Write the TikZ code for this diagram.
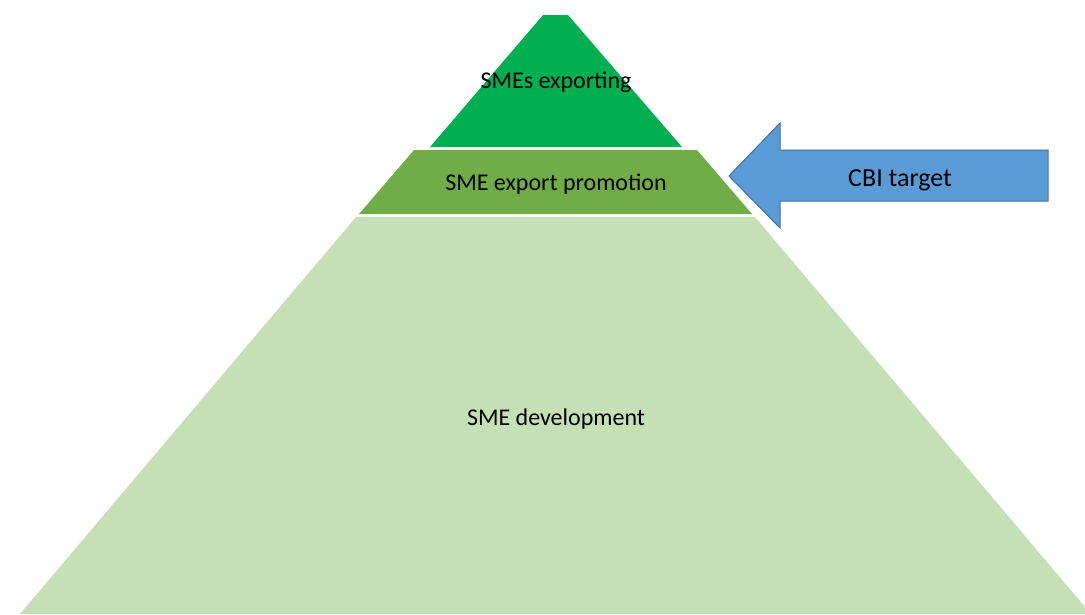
\documentclass[tikz,border=0pt]{standalone}
\usepackage{fontspec}
\setmainfont{Carlito}
\definecolor{topgreen}{HTML}{00B050}
\definecolor{midgreen}{HTML}{70AD47}
\definecolor{lowgreen}{HTML}{C5E0B4}
\definecolor{arrowblue}{HTML}{5B9BD5}
\definecolor{arrowline}{HTML}{41719C}
\begin{document}
\begin{tikzpicture}[x=1pt,y=-1pt,font=\fontsize{24}{28}\selectfont]
    \clip (0,0) rectangle (1085,614);
    \fill[topgreen] (543,15) -- (568,15) -- (682,147) -- (430,147) -- cycle;
    \fill[midgreen] (414,150) -- (697,150) -- (752,214) -- (359,214) -- cycle;
    \fill[lowgreen] (356,217) -- (755,217) -- (1091,614) -- (20,614) -- cycle;
    \filldraw[fill=arrowblue,draw=arrowline,line width=1pt] (729,176) -- (780,123) -- (780,150) -- (1048,150) -- (1048,201) -- (780,201) -- (780,228) -- cycle;
    \node (exporting) at (556,82) {SMEs exporting};
    \node (promotion) at (556,184) {SME export promotion};
    \node (development) at (556,419) {SME development};
    \node[font=\fontsize{26}{30}\selectfont] (target) at (900,180) {CBI target};
\end{tikzpicture}
\end{document}
